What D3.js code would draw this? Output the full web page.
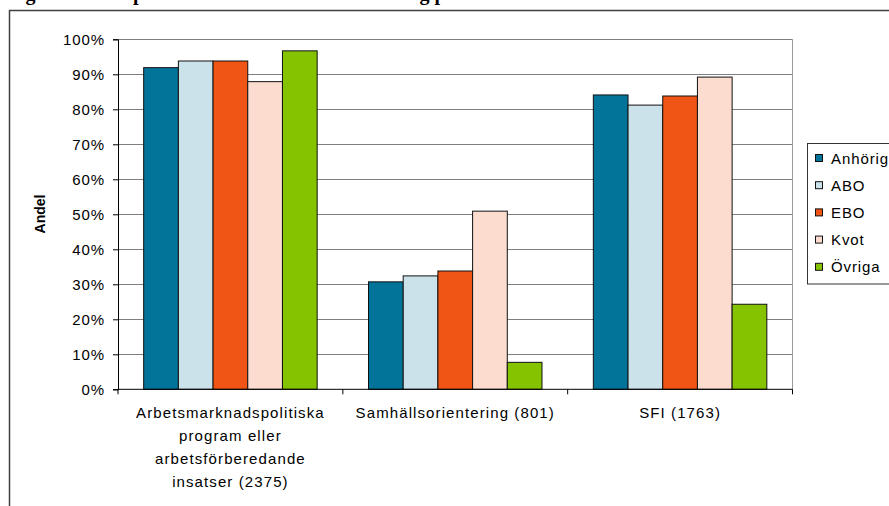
<!DOCTYPE html>
<html>
<head>
<meta charset="utf-8">
<script src="https://cdn.jsdelivr.net/npm/d3@7"></script>
<style>
  body { margin: 0; background: #fff; }
  svg { display: block; }
  text { font-family: "Liberation Sans", Arial, sans-serif; }
</style>
</head>
<body>
<script>
// Insatser (antal deltagare inom parentes)
const categories = [
  "Arbetsmarknadspolitiska program eller arbetsförberedande insatser (2375)",
  "Samhällsorientering (801)",
  "SFI (1763)"
];
const categoryLines = [
  ["Arbetsmarknadspolitiska", "program eller", "arbetsförberedande", "insatser (2375)"],
  ["Samhällsorientering (801)"],
  ["SFI (1763)"]
];

// Invandringsgrund
const series = ["Anhörig", "ABO", "EBO", "Kvot", "Övriga"];
const seriesColors = ["#02749a", "#cce2ea", "#f05516", "#fddcd0", "#85c200"];

// Andel per insats (%)
const anhorig = [91.9, 30.7, 84.1];
const abo     = [93.8, 32.4, 81.2];
const ebo     = [93.8, 33.8, 83.8];
const kvot    = [87.9, 50.9, 89.2];
const ovriga  = [96.7, 7.7, 24.3];
const seriesValues = [anhorig, abo, ebo, kvot, ovriga];

const yTicks = [0, 10, 20, 30, 40, 50, 60, 70, 80, 90, 100];
const yTickLabels = ["0%", "10%", "20%", "30%", "40%", "50%", "60%", "70%", "80%", "90%", "100%"];

const W = 889, H = 506;
const plot = { left: 118, right: 792.5, top: 39.3, bottom: 389.3 };

const svg = d3.select("body").append("svg")
  .attr("width", W).attr("height", H);

// Rubrik ovanför ramen (avskuren i överkant)
svg.append("text")
  .attr("y", 0)
  .style("font-family", "'Liberation Serif', 'Times New Roman', serif")
  .style("font-weight", "bold")
  .style("font-size", "20px")
  .selectAll("tspan")
  .data([
    { x: -20, t: "Deltagare" },
    { x: 133, t: "per insats efter" },
    { x: 335, t: "invandring per" }
  ])
  .join("tspan")
  .attr("x", d => d.x)
  .text(d => d.t);

// Ram runt diagrammet
svg.append("path")
  .attr("d", `M9.5,${H} V10.5 H${W}`)
  .attr("fill", "none")
  .attr("stroke", "#404040")
  .attr("stroke-width", 1.5);

const y = d3.scaleLinear().domain([0, 100]).range([plot.bottom, plot.top]);
const x0 = d3.scaleBand().domain(categories).range([plot.left, plot.right]);
const x1 = d3.scaleBand().domain(series).range([0, x0.bandwidth()])
  .paddingInner(0).paddingOuter(0.74);

// Stödlinjer
svg.append("g")
  .selectAll("line")
  .data(yTicks.filter(d => d > 0))
  .join("line")
  .attr("x1", plot.left).attr("x2", plot.right)
  .attr("y1", d => Math.round(y(d)) + 0.5).attr("y2", d => Math.round(y(d)) + 0.5)
  .attr("stroke", "#7f7f7f").attr("stroke-width", 1);

// Högerkant för diagramytan
svg.append("line")
  .attr("x1", plot.right).attr("x2", plot.right)
  .attr("y1", plot.top).attr("y2", plot.bottom)
  .attr("stroke", "#9a9a9a").attr("stroke-width", 1);

// Staplar
const groups = svg.append("g")
  .selectAll("g")
  .data(categories)
  .join("g")
  .attr("transform", d => `translate(${x0(d)},0)`);

groups.selectAll("rect")
  .data((c, ci) => series.map((s, si) => ({ s, si, v: seriesValues[si][ci] })))
  .join("rect")
  .attr("x", d => x1(d.s))
  .attr("width", x1.bandwidth())
  .attr("y", d => y(d.v))
  .attr("height", d => y(0) - y(d.v))
  .attr("fill", d => seriesColors[d.si])
  .attr("stroke", "#111")
  .attr("stroke-width", 1);

// Y-axel
const yAxis = svg.append("g")
  .attr("transform", `translate(${plot.left},0)`)
  .call(d3.axisLeft(y).tickValues(yTicks).tickFormat((d, i) => yTickLabels[i]).tickSize(5).tickPadding(8));
yAxis.select(".domain").attr("stroke", "#000");
yAxis.selectAll(".tick line").attr("stroke", "#000");
yAxis.selectAll(".tick text")
  .style("font-size", "15px")
  .style("letter-spacing", "0.9px")
  .attr("fill", "#000");

// X-axel med streck mellan kategorierna
svg.append("line")
  .attr("x1", plot.left).attr("x2", plot.right)
  .attr("y1", plot.bottom).attr("y2", plot.bottom)
  .attr("stroke", "#000");
const edges = categories.map(c => x0(c)).concat([x0(categories[categories.length - 1]) + x0.bandwidth()]);
svg.append("g")
  .selectAll("line")
  .data(edges)
  .join("line")
  .attr("x1", d => d).attr("x2", d => d)
  .attr("y1", plot.bottom).attr("y2", plot.bottom + 5)
  .attr("stroke", "#000");

// Kategorietiketter
const catLabels = svg.append("g")
  .selectAll("text")
  .data(categories)
  .join("text")
  .attr("text-anchor", "middle")
  .style("font-size", "15px")
  .style("letter-spacing", "1.1px")
  .attr("fill", "#000");
catLabels.selectAll("tspan")
  .data((c, i) => categoryLines[i].map(line => ({ c, line })))
  .join("tspan")
  .attr("x", d => x0(d.c) + x0.bandwidth() / 2)
  .attr("y", (d, i) => 418 + i * 23)
  .text(d => d.line);

// Axeltitel
svg.append("text")
  .attr("transform", `translate(45,214) rotate(-90)`)
  .attr("text-anchor", "middle")
  .style("font-size", "14px")
  .style("font-weight", "bold")
  .text("Andel");

// Teckenförklaring
const legend = svg.append("g");
legend.append("rect")
  .attr("x", 807.5).attr("y", 143.5)
  .attr("width", 100).attr("height", 140.5)
  .attr("fill", "#fff").attr("stroke", "#333").attr("stroke-width", 1);
const items = legend.selectAll("g")
  .data(series)
  .join("g")
  .attr("transform", (d, i) => `translate(815,${158 + i * 27.2})`);
items.append("rect")
  .attr("x", 0.5).attr("y", -3.5)
  .attr("width", 7).attr("height", 7)
  .attr("fill", (d, i) => seriesColors[i])
  .attr("stroke", "#111");
items.append("text")
  .attr("x", 16).attr("y", 5.5)
  .style("font-size", "15px")
  .style("letter-spacing", "0.9px")
  .text(d => d);
</script>
</body>
</html>
